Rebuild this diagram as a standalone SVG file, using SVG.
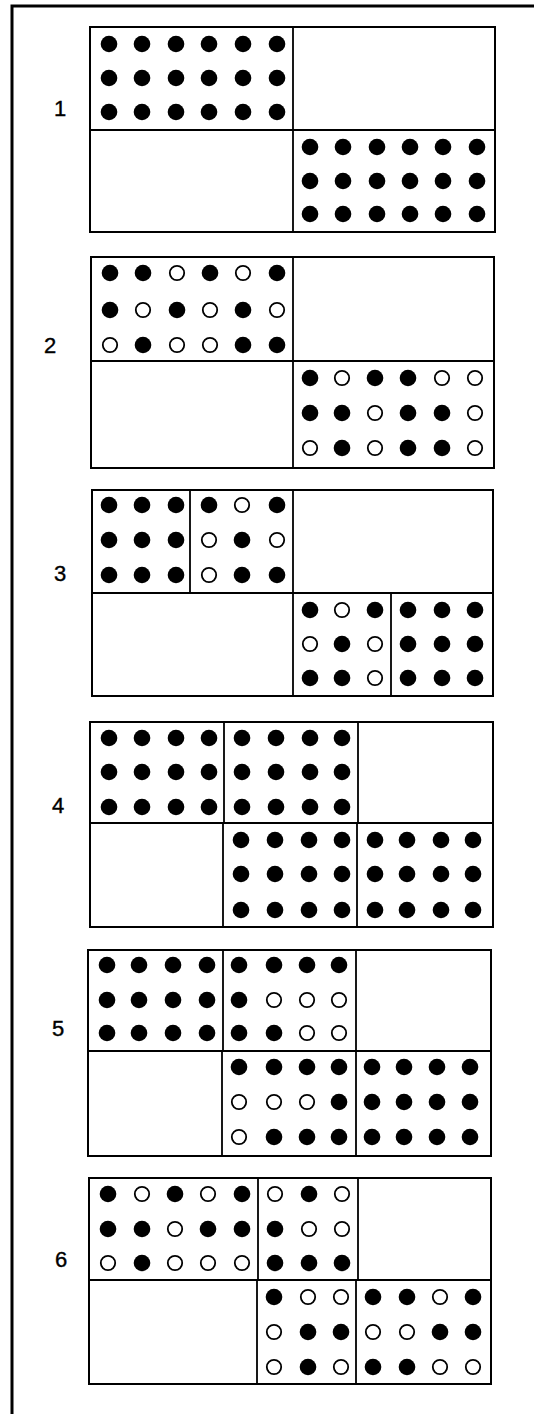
<svg xmlns="http://www.w3.org/2000/svg" xmlns:xlink="http://www.w3.org/1999/xlink" width="534" height="1414" viewBox="0 0 534 1414">
<style>
.box{fill:none;stroke:#000;stroke-width:2}
.ln{stroke:#000;stroke-width:1.8;fill:none}
.lbl{font-family:"Liberation Sans",Arial,sans-serif;font-size:22px;fill:#000;stroke:#000;stroke-width:0.4;text-anchor:middle}
</style>
<defs>
<circle id="f" r="8.3" fill="#000"/>
<circle id="o" r="7.2" fill="#fff" stroke="#000" stroke-width="1.8"/>
</defs>
<rect width="534" height="1414" fill="#fff"/>
<path d="M12,1414 V6 H534" fill="none" stroke="#000" stroke-width="3"/>

<g id="panel1">
<text class="lbl" x="60" y="116">1</text>
<rect class="box" x="90" y="27" width="405" height="205"/>
<path class="ln" d="M90,130 H495 M293,27 V232"/>
<g>
<use href="#f" x="109" y="44"/><use href="#f" x="142" y="44"/><use href="#f" x="176" y="44"/><use href="#f" x="209" y="44"/><use href="#f" x="243" y="44"/><use href="#f" x="277" y="44"/>
<use href="#f" x="109" y="78"/><use href="#f" x="142" y="78"/><use href="#f" x="176" y="78"/><use href="#f" x="209" y="78"/><use href="#f" x="243" y="78"/><use href="#f" x="277" y="78"/>
<use href="#f" x="109" y="112"/><use href="#f" x="142" y="112"/><use href="#f" x="176" y="112"/><use href="#f" x="209" y="112"/><use href="#f" x="243" y="112"/><use href="#f" x="277" y="112"/>
<use href="#f" x="310" y="147"/><use href="#f" x="343" y="147"/><use href="#f" x="377" y="147"/><use href="#f" x="410" y="147"/><use href="#f" x="443" y="147"/><use href="#f" x="477" y="147"/>
<use href="#f" x="310" y="181"/><use href="#f" x="343" y="181"/><use href="#f" x="377" y="181"/><use href="#f" x="410" y="181"/><use href="#f" x="443" y="181"/><use href="#f" x="477" y="181"/>
<use href="#f" x="310" y="214"/><use href="#f" x="343" y="214"/><use href="#f" x="377" y="214"/><use href="#f" x="410" y="214"/><use href="#f" x="443" y="214"/><use href="#f" x="477" y="214"/>
</g>
</g>

<g id="panel2">
<text class="lbl" x="50" y="353">2</text>
<rect class="box" x="91" y="257" width="403" height="211"/>
<path class="ln" d="M91,361 H494 M293,257 V468"/>
<g>
<use href="#f" x="110" y="273"/><use href="#f" x="143" y="273"/><use href="#o" x="177" y="273"/><use href="#f" x="210" y="273"/><use href="#o" x="243" y="273"/><use href="#f" x="277" y="273"/>
<use href="#f" x="110" y="310"/><use href="#o" x="143" y="310"/><use href="#f" x="177" y="310"/><use href="#o" x="210" y="310"/><use href="#f" x="243" y="310"/><use href="#o" x="277" y="310"/>
<use href="#o" x="110" y="345"/><use href="#f" x="143" y="345"/><use href="#o" x="177" y="345"/><use href="#o" x="210" y="345"/><use href="#f" x="243" y="345"/><use href="#f" x="277" y="345"/>
<use href="#f" x="310" y="378"/><use href="#o" x="342" y="378"/><use href="#f" x="375" y="378"/><use href="#f" x="408" y="378"/><use href="#o" x="442" y="378"/><use href="#o" x="475" y="378"/>
<use href="#f" x="310" y="413"/><use href="#f" x="342" y="413"/><use href="#o" x="375" y="413"/><use href="#f" x="408" y="413"/><use href="#f" x="442" y="413"/><use href="#o" x="475" y="413"/>
<use href="#o" x="310" y="448"/><use href="#f" x="342" y="448"/><use href="#o" x="375" y="448"/><use href="#f" x="408" y="448"/><use href="#f" x="442" y="448"/><use href="#o" x="475" y="448"/>
</g>
</g>

<g id="panel3">
<text class="lbl" x="60" y="581">3</text>
<rect class="box" x="92" y="490" width="401" height="206"/>
<path class="ln" d="M92,593 H493 M293,490 V696 M190,490 V593 M391,593 V696"/>
<g>
<use href="#f" x="109" y="505"/><use href="#f" x="142" y="505"/><use href="#f" x="176" y="505"/><use href="#f" x="209" y="505"/><use href="#o" x="242" y="505"/><use href="#f" x="277" y="505"/>
<use href="#f" x="109" y="540"/><use href="#f" x="142" y="540"/><use href="#f" x="176" y="540"/><use href="#o" x="209" y="540"/><use href="#f" x="242" y="540"/><use href="#o" x="277" y="540"/>
<use href="#f" x="109" y="575"/><use href="#f" x="142" y="575"/><use href="#f" x="176" y="575"/><use href="#o" x="209" y="575"/><use href="#f" x="242" y="575"/><use href="#f" x="277" y="575"/>
<use href="#f" x="310" y="610"/><use href="#o" x="342" y="610"/><use href="#f" x="375" y="610"/><use href="#f" x="408" y="610"/><use href="#f" x="442" y="610"/><use href="#f" x="475" y="610"/>
<use href="#o" x="310" y="644"/><use href="#f" x="342" y="644"/><use href="#o" x="375" y="644"/><use href="#f" x="408" y="644"/><use href="#f" x="442" y="644"/><use href="#f" x="475" y="644"/>
<use href="#f" x="310" y="678"/><use href="#f" x="342" y="678"/><use href="#o" x="375" y="678"/><use href="#f" x="408" y="678"/><use href="#f" x="442" y="678"/><use href="#f" x="475" y="678"/>
</g>
</g>

<g id="panel4">
<text class="lbl" x="58" y="813">4</text>
<rect class="box" x="90" y="722" width="403" height="205"/>
<path class="ln" d="M90,823 H493 M224,722 V823 M358,722 V823 M223,823 V927 M357,823 V927"/>
<g>
<use href="#f" x="109" y="738"/><use href="#f" x="142" y="738"/><use href="#f" x="176" y="738"/><use href="#f" x="209" y="738"/><use href="#f" x="242" y="738"/><use href="#f" x="276" y="738"/><use href="#f" x="310" y="738"/><use href="#f" x="342" y="738"/>
<use href="#f" x="109" y="772"/><use href="#f" x="142" y="772"/><use href="#f" x="176" y="772"/><use href="#f" x="209" y="772"/><use href="#f" x="242" y="772"/><use href="#f" x="276" y="772"/><use href="#f" x="310" y="772"/><use href="#f" x="342" y="772"/>
<use href="#f" x="109" y="807"/><use href="#f" x="142" y="807"/><use href="#f" x="176" y="807"/><use href="#f" x="209" y="807"/><use href="#f" x="242" y="807"/><use href="#f" x="276" y="807"/><use href="#f" x="310" y="807"/><use href="#f" x="342" y="807"/>
<use href="#f" x="241" y="840"/><use href="#f" x="275" y="840"/><use href="#f" x="309" y="840"/><use href="#f" x="342" y="840"/><use href="#f" x="375" y="840"/><use href="#f" x="407" y="840"/><use href="#f" x="441" y="840"/><use href="#f" x="473" y="840"/>
<use href="#f" x="241" y="874"/><use href="#f" x="275" y="874"/><use href="#f" x="309" y="874"/><use href="#f" x="342" y="874"/><use href="#f" x="375" y="874"/><use href="#f" x="407" y="874"/><use href="#f" x="441" y="874"/><use href="#f" x="473" y="874"/>
<use href="#f" x="241" y="910"/><use href="#f" x="275" y="910"/><use href="#f" x="309" y="910"/><use href="#f" x="342" y="910"/><use href="#f" x="375" y="910"/><use href="#f" x="407" y="910"/><use href="#f" x="441" y="910"/><use href="#f" x="473" y="910"/>
</g>
</g>

<g id="panel5">
<text class="lbl" x="58" y="1036">5</text>
<rect class="box" x="88" y="950" width="403" height="206"/>
<path class="ln" d="M88,1051 H491 M223,950 V1051 M356,950 V1051 M222,1051 V1156 M356,1051 V1156"/>
<g>
<use href="#f" x="107" y="965"/><use href="#f" x="139" y="965"/><use href="#f" x="173" y="965"/><use href="#f" x="207" y="965"/><use href="#f" x="239" y="965"/><use href="#f" x="274" y="965"/><use href="#f" x="307" y="965"/><use href="#f" x="339" y="965"/>
<use href="#f" x="107" y="1000"/><use href="#f" x="139" y="1000"/><use href="#f" x="173" y="1000"/><use href="#f" x="207" y="1000"/><use href="#f" x="239" y="1000"/><use href="#o" x="274" y="1000"/><use href="#o" x="307" y="1000"/><use href="#o" x="339" y="1000"/>
<use href="#f" x="107" y="1033"/><use href="#f" x="139" y="1033"/><use href="#f" x="173" y="1033"/><use href="#f" x="207" y="1033"/><use href="#f" x="239" y="1033"/><use href="#f" x="274" y="1033"/><use href="#o" x="307" y="1033"/><use href="#o" x="339" y="1033"/>
<use href="#f" x="239" y="1067"/><use href="#f" x="274" y="1067"/><use href="#f" x="307" y="1067"/><use href="#f" x="339" y="1067"/><use href="#f" x="372" y="1067"/><use href="#f" x="404" y="1067"/><use href="#f" x="437" y="1067"/><use href="#f" x="470" y="1067"/>
<use href="#o" x="239" y="1102"/><use href="#o" x="274" y="1102"/><use href="#o" x="307" y="1102"/><use href="#f" x="339" y="1102"/><use href="#f" x="372" y="1102"/><use href="#f" x="404" y="1102"/><use href="#f" x="437" y="1102"/><use href="#f" x="470" y="1102"/>
<use href="#o" x="239" y="1137"/><use href="#f" x="274" y="1137"/><use href="#f" x="307" y="1137"/><use href="#f" x="339" y="1137"/><use href="#f" x="372" y="1137"/><use href="#f" x="404" y="1137"/><use href="#f" x="437" y="1137"/><use href="#f" x="470" y="1137"/>
</g>
</g>

<g id="panel6">
<text class="lbl" x="61" y="1267">6</text>
<rect class="box" x="89" y="1178" width="402" height="206"/>
<path class="ln" d="M89,1280 H491 M258,1178 V1280 M358,1178 V1280 M257,1280 V1384 M356,1280 V1384"/>
<g>
<use href="#f" x="108" y="1194"/><use href="#o" x="142" y="1194"/><use href="#f" x="175" y="1194"/><use href="#o" x="208" y="1194"/><use href="#f" x="242" y="1194"/><use href="#o" x="275" y="1194"/><use href="#f" x="309" y="1194"/><use href="#o" x="342" y="1194"/>
<use href="#f" x="108" y="1229"/><use href="#f" x="142" y="1229"/><use href="#o" x="175" y="1229"/><use href="#f" x="208" y="1229"/><use href="#f" x="242" y="1229"/><use href="#f" x="275" y="1229"/><use href="#o" x="309" y="1229"/><use href="#o" x="342" y="1229"/>
<use href="#o" x="108" y="1263"/><use href="#f" x="142" y="1263"/><use href="#o" x="175" y="1263"/><use href="#o" x="208" y="1263"/><use href="#o" x="242" y="1263"/><use href="#f" x="275" y="1263"/><use href="#f" x="309" y="1263"/><use href="#f" x="342" y="1263"/>
<use href="#f" x="274" y="1297"/><use href="#o" x="308" y="1297"/><use href="#o" x="341" y="1297"/><use href="#f" x="373" y="1297"/><use href="#f" x="407" y="1297"/><use href="#o" x="440" y="1297"/><use href="#f" x="473" y="1297"/>
<use href="#o" x="274" y="1332"/><use href="#f" x="308" y="1332"/><use href="#f" x="341" y="1332"/><use href="#o" x="373" y="1332"/><use href="#o" x="407" y="1332"/><use href="#f" x="440" y="1332"/><use href="#f" x="473" y="1332"/>
<use href="#o" x="274" y="1367"/><use href="#f" x="308" y="1367"/><use href="#o" x="341" y="1367"/><use href="#f" x="373" y="1367"/><use href="#f" x="407" y="1367"/><use href="#o" x="440" y="1367"/><use href="#o" x="473" y="1367"/>
</g>
</g>
</svg>
